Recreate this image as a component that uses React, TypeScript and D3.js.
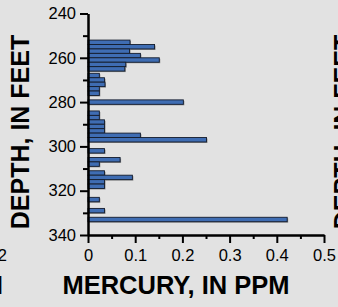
import { useEffect, useRef } from 'react';
import * as d3 from 'd3';

// depth (center of each 2-ft interval, feet) and mercury (ppm)
const depths = [253, 255, 257, 259, 261, 263, 265, 268, 270, 272, 274, 276, 280,
  285, 287, 289, 291, 293, 295, 297, 302, 306, 308, 312, 314, 316, 318, 324, 329, 333];
const mercury = [0.089, 0.141, 0.088, 0.111, 0.151, 0.08, 0.078, 0.024, 0.035, 0.036, 0.024, 0.024, 0.202,
  0.024, 0.024, 0.035, 0.035, 0.035, 0.111, 0.251, 0.035, 0.068, 0.024, 0.035, 0.094, 0.035, 0.035, 0.024, 0.035, 0.422];
const depthTicks = [240, 260, 280, 300, 320, 340];
const depthMinor = [250, 270, 290, 310, 330];
const hgTicks = [0, 0.1, 0.2, 0.3, 0.4, 0.5];
const hgMinor = [0.05, 0.15, 0.25, 0.35, 0.45];

const W = 338;
const H = 307;
const FONT = '"Liberation Sans", Arial, sans-serif';

export default function App() {
  const svgRef = useRef<SVGSVGElement>(null);

  useEffect(() => {
    if (!svgRef.current) return;
    const svg = d3.select(svgRef.current);
    svg.selectAll('*').remove();

    svg.append('rect').attr('width', W).attr('height', H).attr('fill', '#e2e2e2');

    const x = d3.scaleLinear().domain([0, 0.5]).range([88, 324]);
    const y = d3.scaleLinear().domain([240, 340]).range([13.5, 235]);

    const rows = depths.map((d, i) => ({ depth: d, hg: mercury[i] }));

    // bar shadows
    svg.append('g')
      .selectAll('rect')
      .data(rows)
      .enter()
      .append('rect')
      .attr('x', x(0) + 1)
      .attr('y', d => y(d.depth - 1) + 1)
      .attr('width', d => x(d.hg) - x(0))
      .attr('height', d => y(d.depth + 1) - y(d.depth - 1))
      .attr('fill', '#8c8c8c');

    // bars
    svg.append('g')
      .selectAll('rect')
      .data(rows)
      .enter()
      .append('rect')
      .attr('x', x(0))
      .attr('y', d => y(d.depth - 1))
      .attr('width', d => x(d.hg) - x(0))
      .attr('height', d => y(d.depth + 1) - y(d.depth - 1))
      .attr('fill', '#3f6db3')
      .attr('stroke', '#141c2c')
      .attr('stroke-width', 0.9);

    const styleAxis = (g: any) => {
      g.selectAll('.domain').attr('stroke', '#000').attr('stroke-width', 2);
      g.selectAll('.tick line').attr('stroke', '#000').attr('stroke-width', 2);
      g.selectAll('.tick text')
        .attr('fill', '#000')
        .style('font-family', FONT)
        .style('font-size', '16.5px');
    };

    // y axis
    const gy = svg.append('g').attr('transform', `translate(${x(0)},0)`);
    gy.call(d3.axisLeft(y).tickValues(depthTicks).tickSize(8).tickSizeOuter(0).tickPadding(4).tickFormat(d3.format('d')));
    styleAxis(gy);
    const gyMinor = svg.append('g').attr('transform', `translate(${x(0)},0)`);
    gyMinor.call(d3.axisLeft(y).tickValues(depthMinor).tickSize(5).tickSizeOuter(0).tickFormat(() => ''));
    styleAxis(gyMinor);

    // x axis
    const gx = svg.append('g').attr('transform', `translate(0,${y(340)})`);
    gx.call(d3.axisBottom(x).tickValues(hgTicks).tickSize(8).tickSizeOuter(0).tickPadding(6).tickFormat(d3.format('')));
    styleAxis(gx);
    const gxMinor = svg.append('g').attr('transform', `translate(0,${y(340)})`);
    gxMinor.call(d3.axisBottom(x).tickValues(hgMinor).tickSize(4).tickSizeOuter(0).tickFormat(() => ''));
    styleAxis(gxMinor);

    // axis titles
    svg.append('text')
      .attr('transform', 'translate(29,132) rotate(-90)')
      .attr('text-anchor', 'middle')
      .style('font-family', FONT)
      .style('font-weight', 'bold')
      .style('font-size', '25px')
      .text('DEPTH, IN FEET');

    svg.append('text')
      .attr('x', 176)
      .attr('y', 294)
      .attr('text-anchor', 'middle')
      .style('font-family', FONT)
      .style('font-weight', 'bold')
      .style('font-size', '25.5px')
      .text('MERCURY, IN PPM');

    // pieces of the neighbouring panels cut by the frame
    svg.append('text')
      .attr('transform', 'translate(352,132) rotate(-90)')
      .attr('text-anchor', 'middle')
      .style('font-family', FONT)
      .style('font-weight', 'bold')
      .style('font-size', '25px')
      .text('DEPTH, IN FEET');
    svg.append('text')
      .attr('x', 7)
      .attr('y', 261)
      .attr('text-anchor', 'end')
      .style('font-family', FONT)
      .style('font-size', '16.5px')
      .text('0.2');
    svg.append('text')
      .attr('x', 3)
      .attr('y', 294)
      .attr('text-anchor', 'end')
      .style('font-family', FONT)
      .style('font-weight', 'bold')
      .style('font-size', '25.5px')
      .text('PPM');
  }, []);

  return (
    <svg
      ref={svgRef}
      width={W}
      height={H}
      style={{ position: 'absolute', left: 0, top: 0 }}
    />
  );
}
